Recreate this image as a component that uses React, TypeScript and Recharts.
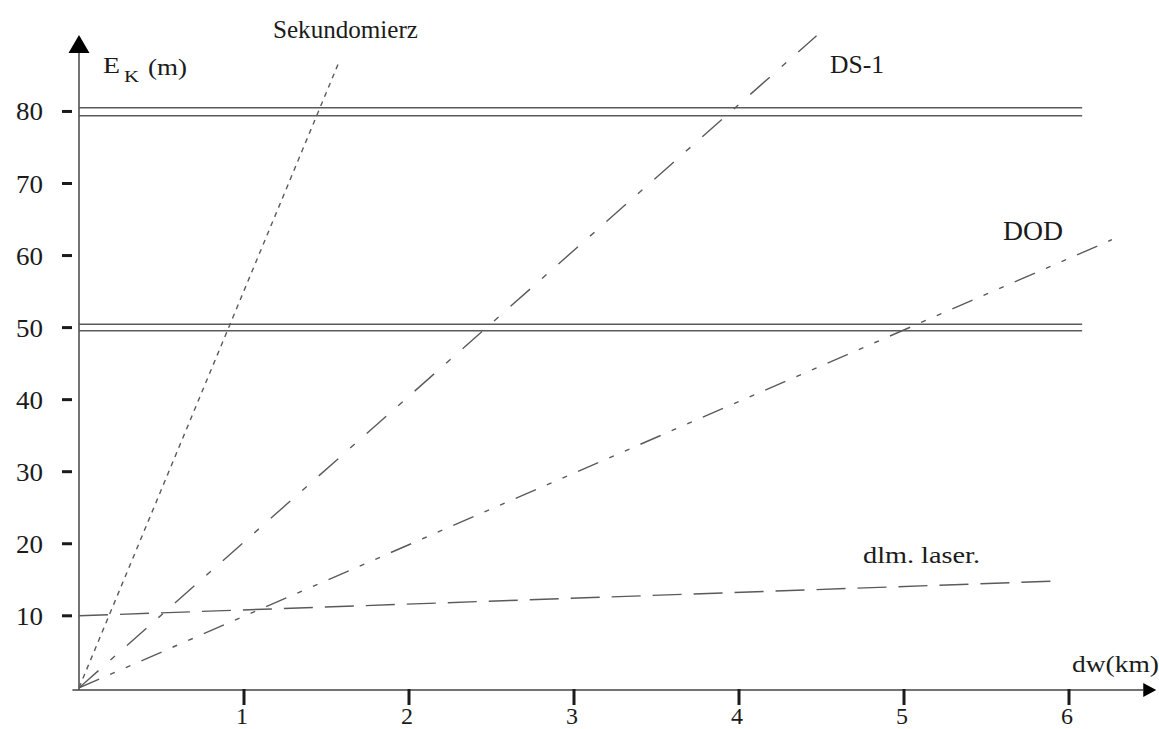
import { LineChart, Line, XAxis, YAxis, ReferenceLine, ReferenceDot } from 'recharts';

// tick labels
const distanceTicks = [1, 2, 3, 4, 5, 6];
const errorTicks = [10, 20, 30, 40, 50, 60, 70, 80];

// series: dw (km) -> E_K (m)
const sekundomierzDw = [0, 1.58];
const sekundomierzE = [0, 87.1];
const ds1Dw = [0, 4.47];
const ds1E = [0, 90.5];
const dodDw = [0, 6.26];
const dodE = [0, 62.2];
const laserDw = [0, 5.9];
const laserE = [10, 14.8];

// double limit lines at 80 m and 50 m
const limitDw = [0, 6.08];
const limit80Upper = [80.5, 80.5];
const limit80Lower = [79.4, 79.4];
const limit50Upper = [50.45, 50.45];
const limit50Lower = [49.55, 49.55];

const toPoints = (dw: number[], e: number[]) => dw.map((d, i) => ({ dw: d, e: e[i] }));

const FONT = '"Liberation Serif", "Times New Roman", Times, serif';
const INK = '#1b1b1b';
const LINE = '#5a5a5a';

const textStyle = { fontFamily: FONT, fill: INK } as const;

const YTick = (props: any) => {
  const { y, payload } = props;
  return (
    <g>
      <line x1={62} x2={72} y1={y} y2={y} stroke={INK} strokeWidth={3} />
      <text
        x={43}
        y={y + 9}
        textAnchor="end"
        fontSize={25}
        style={textStyle}
        textLength={27}
        lengthAdjust="spacingAndGlyphs"
      >
        {payload.value}
      </text>
    </g>
  );
};

const XTick = (props: any) => {
  const { x, payload } = props;
  return (
    <g>
      <line x1={x} x2={x} y1={689} y2={705} stroke={INK} strokeWidth={3} />
      <text x={x - 2} y={724} textAnchor="middle" fontSize={24} style={textStyle}>
        {payload.value}
      </text>
    </g>
  );
};

const upArrow = (props: any) => {
  const { cx, cy } = props;
  return <polygon points={`${cx - 10.5},${cy} ${cx + 10.5},${cy} ${cx},${cy - 18}`} fill="#000" />;
};

const rightArrow = (props: any) => {
  const { cx, cy } = props;
  return <polygon points={`${cx},${cy - 7} ${cx},${cy + 7} ${cx + 13},${cy}`} fill="#000" />;
};

export default function App() {
  return (
    <div style={{ position: 'absolute', left: 0, top: 0, width: 1159, height: 729, background: '#fff' }}>
      <LineChart width={1159} height={729} margin={{ top: 25, right: 7.5, bottom: 9, left: 19 }}>
        <XAxis
          dataKey="dw"
          type="number"
          domain={[0, 6.5]}
          ticks={distanceTicks}
          height={30}
          axisLine={false}
          tickLine={false}
          tick={<XTick />}
          allowDataOverflow
        />
        <YAxis
          type="number"
          domain={[-0.3, 92]}
          ticks={errorTicks}
          width={60}
          axisLine={false}
          tickLine={false}
          tick={<YTick />}
          allowDataOverflow
        />

        {/* axes drawn by hand so they can carry arrowheads */}
        <ReferenceLine
          segment={[{ x: 0, y: -0.3 }, { x: 0, y: 88.1 }]}
          stroke="#444"
          strokeWidth={1.5}
          ifOverflow="visible"
        />
        <ReferenceLine
          segment={[{ x: -0.04, y: -0.3 }, { x: 6.45, y: -0.3 }]}
          stroke="#444"
          strokeWidth={1.5}
          ifOverflow="visible"
        />
        <ReferenceDot x={0} y={88.1} r={0} shape={upArrow} ifOverflow="visible" />
        <ReferenceDot x={6.45} y={-0.3} r={0} shape={rightArrow} ifOverflow="visible" />

        <Line data={toPoints(limitDw, limit80Upper)} dataKey="e" stroke={LINE} strokeWidth={1.5} dot={false} isAnimationActive={false} />
        <Line data={toPoints(limitDw, limit80Lower)} dataKey="e" stroke={LINE} strokeWidth={1.5} dot={false} isAnimationActive={false} />
        <Line data={toPoints(limitDw, limit50Upper)} dataKey="e" stroke={LINE} strokeWidth={1.5} dot={false} isAnimationActive={false} />
        <Line data={toPoints(limitDw, limit50Lower)} dataKey="e" stroke={LINE} strokeWidth={1.5} dot={false} isAnimationActive={false} />

        <Line
          data={toPoints(sekundomierzDw, sekundomierzE)}
          dataKey="e"
          stroke={LINE}
          strokeWidth={1.4}
          strokeDasharray="5 5"
          dot={false}
          isAnimationActive={false}
        />
        <Line
          data={toPoints(ds1Dw, ds1E)}
          dataKey="e"
          stroke={LINE}
          strokeWidth={1.4}
          strokeDasharray="26 16 6 16"
          dot={false}
          isAnimationActive={false}
        />
        <Line
          data={toPoints(dodDw, dodE)}
          dataKey="e"
          stroke={LINE}
          strokeWidth={1.4}
          strokeDasharray="22 12 5 12 5 12"
          dot={false}
          isAnimationActive={false}
        />
        <Line
          data={toPoints(laserDw, laserE)}
          dataKey="e"
          stroke={LINE}
          strokeWidth={1.4}
          strokeDasharray="29 12"
          dot={false}
          isAnimationActive={false}
        />
      </LineChart>

      {/* annotations */}
      <svg
        width={1159}
        height={729}
        style={{ position: 'absolute', left: 0, top: 0, pointerEvents: 'none' }}
      >
        <text x={103} y={73} fontSize={23} textLength={17} lengthAdjust="spacingAndGlyphs" style={textStyle}>E</text>
        <text x={124} y={82} fontSize={17} textLength={15} lengthAdjust="spacingAndGlyphs" style={textStyle}>K</text>
        <text x={148} y={75} fontSize={23} textLength={39} lengthAdjust="spacingAndGlyphs" style={textStyle}>(m)</text>
        <text x={1072} y={672} fontSize={24} textLength={87} lengthAdjust="spacingAndGlyphs" style={textStyle}>dw(km)</text>
        <text x={273} y={38} fontSize={25} textLength={145} lengthAdjust="spacingAndGlyphs" style={textStyle}>Sekundomierz</text>
        <text x={830} y={73} fontSize={26} textLength={54} lengthAdjust="spacingAndGlyphs" style={textStyle}>DS-1</text>
        <text x={1003} y={240} fontSize={27} textLength={60} lengthAdjust="spacingAndGlyphs" style={textStyle}>DOD</text>
        <text x={863} y={563} fontSize={23} textLength={117} lengthAdjust="spacingAndGlyphs" style={textStyle}>dlm. laser.</text>
      </svg>
    </div>
  );
}
